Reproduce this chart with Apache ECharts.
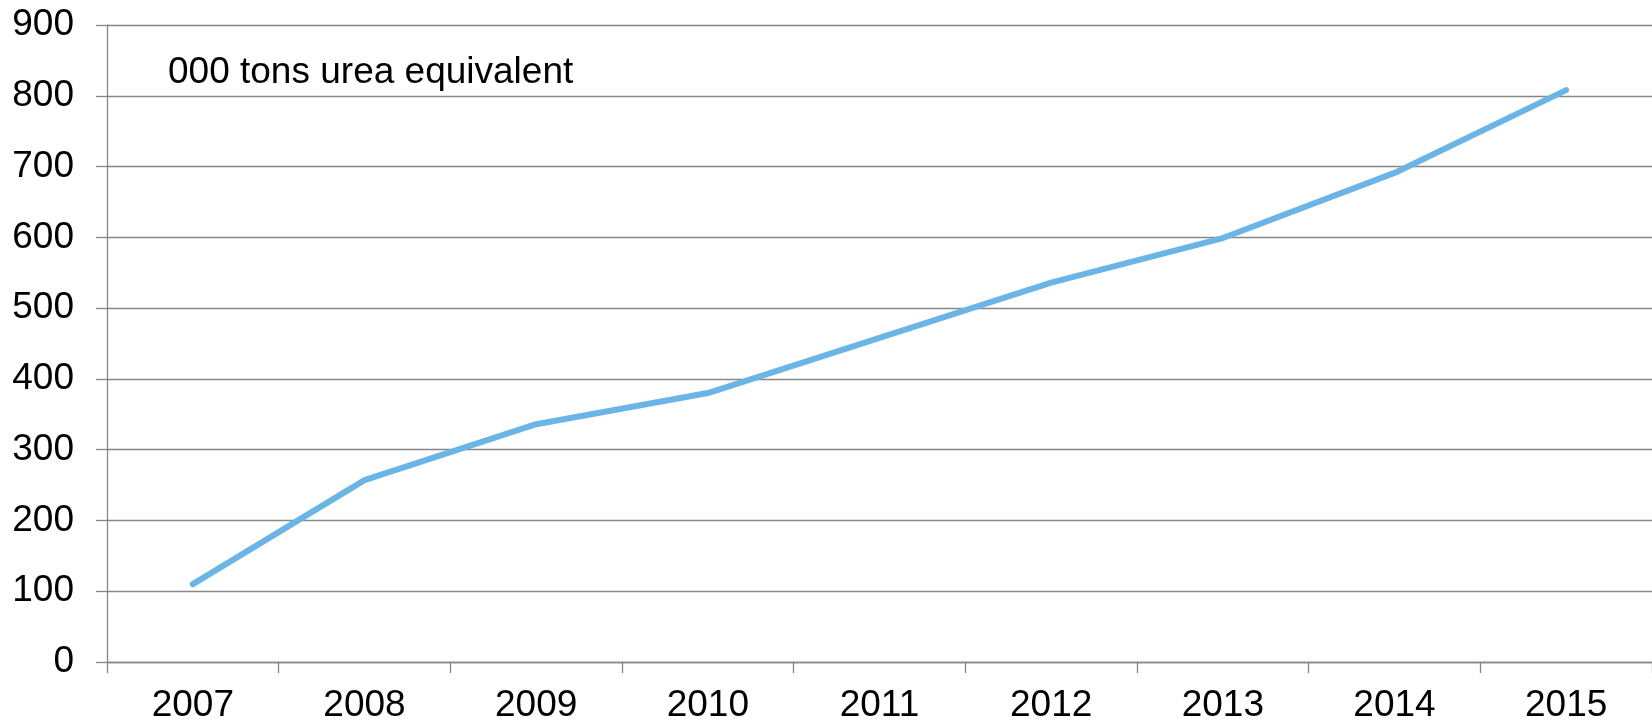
<!DOCTYPE html>
<html>
<head>
<meta charset="utf-8">
<script src="https://cdn.jsdelivr.net/npm/echarts@6/dist/echarts.min.js"></script>
<style>
html,body{margin:0;padding:0;background:#fff;}
#chart{width:1652px;height:724px;}
</style>
</head>
<body>
<div id="chart"></div>
<script>
const years = ['2007','2008','2009','2010','2011','2012','2013','2014','2015'];
const values = [110, 257, 336, 380, 458, 536, 599, 691, 808];
const yTicks = [0, 100, 200, 300, 400, 500, 600, 700, 800, 900];
const unitLabel = '000 tons urea equivalent';

const FONT = '"Liberation Sans", Arial, sans-serif';
const GRID_COLOR = '#878787';

const chart = echarts.init(document.getElementById('chart'));
chart.setOption({
  animation: false,
  backgroundColor: '#fff',
  grid: { left: 107, top: 25, width: 1553, height: 638, containLabel: false },
  xAxis: {
    type: 'category',
    data: years,
    boundaryGap: true,
    axisLine: { show: true, lineStyle: { color: GRID_COLOR, width: 1.3 } },
    axisTick: { show: true, length: 11, lineStyle: { color: GRID_COLOR, width: 1.3 } },
    axisLabel: { fontFamily: FONT, fontSize: 37, color: '#000', margin: 25 },
    splitLine: { show: false }
  },
  yAxis: {
    type: 'value',
    min: yTicks[0],
    max: yTicks[yTicks.length - 1],
    interval: 100,
    axisLine: { show: true, lineStyle: { color: GRID_COLOR, width: 1.3 } },
    axisTick: { show: true, length: 11, lineStyle: { color: GRID_COLOR, width: 1.3 } },
    axisLabel: { fontFamily: FONT, fontSize: 37, color: '#000', margin: 33 },
    splitLine: { show: true, lineStyle: { color: GRID_COLOR, width: 1.3 } }
  },
  graphic: [{
    type: 'text',
    x: 168,
    y: 73,
    style: {
      text: unitLabel,
      font: '37px ' + FONT,
      fill: '#000',
      textVerticalAlign: 'middle'
    }
  }],
  series: [{
    type: 'line',
    data: values,
    symbol: 'none',
    lineStyle: { color: '#6BB4E6', width: 6, cap: 'round', join: 'round' }
  }]
});
</script>
</body>
</html>
